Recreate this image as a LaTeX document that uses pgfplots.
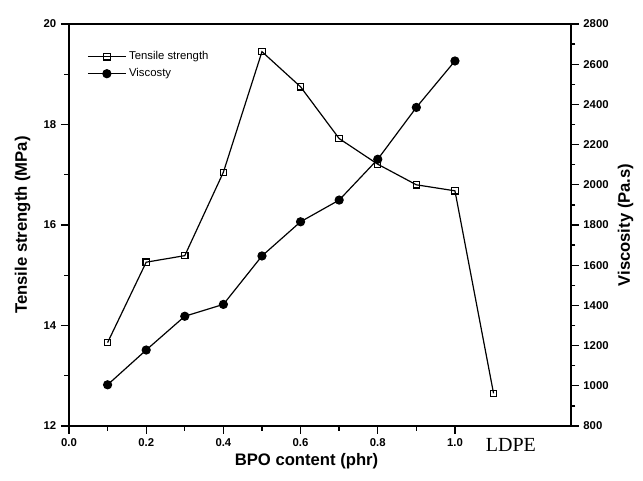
\documentclass[border=0pt]{standalone}
\usepackage{fontspec}
\setmainfont{Liberation Sans}
\setsansfont{Liberation Sans}
\newfontfamily\seriffont{Liberation Serif}
\usepackage{pgfplots}
\pgfplotsset{compat=1.18}

\begin{document}
\begin{tikzpicture}
\useasboundingbox (-51.75pt,-41.25pt) rectangle (430.5pt,319.5pt);
\pgfplotsset{
  every axis/.append style={
    scale only axis,
    width=376.3pt, height=301.5pt,
    xmin=0, xmax=1.3,
    tick align=outside,
    major tick length=6pt,
    minor tick length=3.5pt,
    axis line style={line width=1.3pt},
    every tick/.style={line width=1pt, black},
    tick label style={font=\bfseries\fontsize{8.5}{10}\selectfont},
    label style={font=\bfseries\fontsize{12.5}{14}\selectfont},
    /pgf/number format/assume math mode=true,
  },
}
\begin{axis}[
  clip=false,
  ymin=12, ymax=20,
  ytick={12,14,16,18,20},
  minor ytick={13,15,17,19},
  xtick={0,0.2,0.4,0.6,0.8,1.0},
  minor xtick={0.1,0.3,0.5,0.7,0.9},
  xtick pos=bottom, ytick pos=left,
  xticklabel style={/pgf/number format/fixed, /pgf/number format/fixed zerofill, /pgf/number format/precision=1},
  xlabel={BPO content (phr)},
  ylabel={Tensile strength (MPa)},
  xlabel style={xshift=-10pt, yshift=2pt},
  ylabel style={yshift=3pt},
  legend style={at={(rel axis cs:0.028,0.945)}, anchor=north west, draw=none, fill=none,
    font=\fontsize{8.5}{10}\selectfont, row sep=1pt},
  legend cell align=left,
  legend image code/.code={\draw[mark repeat=2,mark phase=2] plot coordinates {(0cm,0cm)(0.5cm,0cm)(1cm,0cm)};},
]
\addplot[black, line width=0.9pt, mark=square, mark size=2.4pt, mark options={solid, fill=white, line width=0.8pt}]
  coordinates {
    (0.1,13.66)(0.2,15.26)(0.3,15.39)(0.4,17.05)(0.5,19.45)(0.6,18.75)
    (0.7,17.72)(0.8,17.21)(0.9,16.80)(1.0,16.68)(1.1,12.65)
  };
\addlegendentry{Tensile strength}
\addlegendimage{black, line width=0.9pt, mark=*, mark size=3pt}
\addlegendentry{Viscosty}
\node[font=\seriffont\fontsize{15}{15}\selectfont, anchor=base, yshift=-19.5pt] at (axis cs:1.145,12) {LDPE};
\end{axis}
\begin{axis}[
  ymin=800, ymax=2800,
  ytick={800,1000,...,2800},
  minor ytick={900,1100,...,2700},
  hide x axis,
  axis y line*=right,
  yticklabel style={/pgf/number format/1000 sep={}},
  ylabel={Viscosity (Pa.s)},
]
\addplot[black, line width=0.9pt, mark=*, mark size=3pt]
  coordinates {
    (0.1,1005)(0.2,1178)(0.3,1346)(0.4,1405)(0.5,1646)(0.6,1816)
    (0.7,1924)(0.8,2127)(0.9,2385)(1.0,2616)
  };
\end{axis}
\end{tikzpicture}
\end{document}
